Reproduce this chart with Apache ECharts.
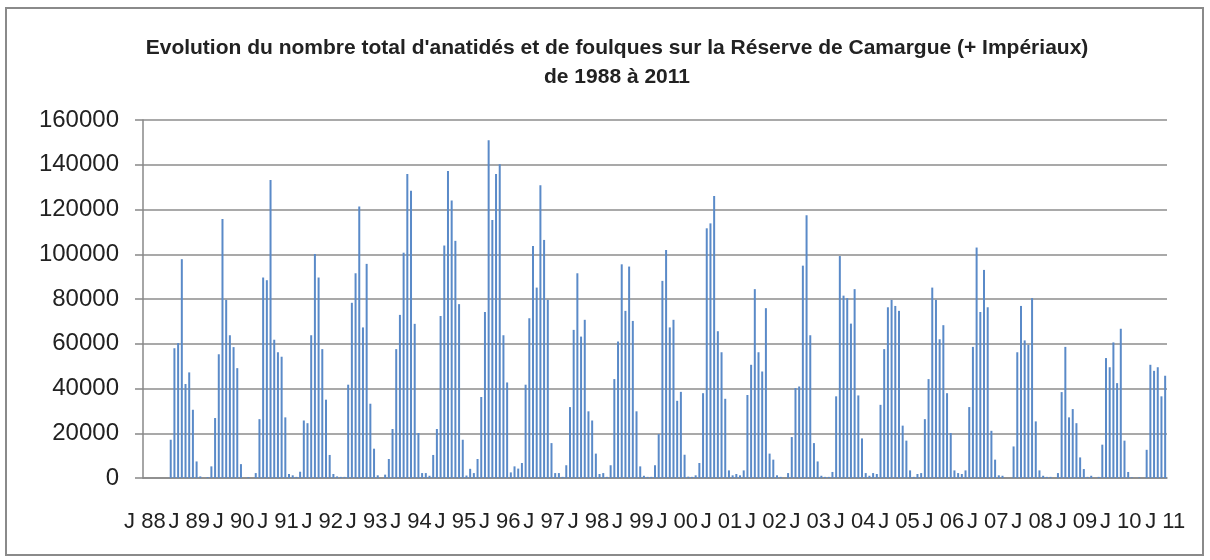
<!DOCTYPE html>
<html>
<head>
<meta charset="utf-8">
<script src="https://cdn.jsdelivr.net/npm/echarts@6/dist/echarts.min.js"></script>
<style>
  html, body { margin: 0; padding: 0; background: #fff; }
  #chart { width: 1210px; height: 560px; }
</style>
</head>
<body>
<div id="chart"></div>
<script>
// comptages mensuels, une ligne par année (janvier -> décembre)
var firstYear = 1988
var lastYear = 2011
var counts = [
    null, null, null, null, null, null, null, 17100, 58000, 60300, 97800, 42000,   // 1988
    47200, 30500, 7400, 700, 0, 400, 5200, 26800, 55300, 115800, 79600, 63800,     // 1989
    58500, 49100, 6200, 0, 400, 0, 2200, 26300, 89600, 88400, 133200, 61800,       // 1990
    56200, 54200, 27100, 1800, 1200, 500, 2800, 25700, 24500, 63800, 100100, 89600, // 1991
    57600, 35000, 10300, 1800, 700, 500, 500, 41700, 78300, 91500, 121300, 67300,  // 1992
    95700, 33200, 13100, 1200, 0, 1500, 8500, 21900, 57600, 72900, 100700, 135900, // 1993
    128400, 68900, 20100, 2200, 2200, 1000, 10300, 21900, 72400, 103900, 137200, 124000, // 1994
    106000, 77700, 17100, 1100, 4100, 2200, 8500, 36200, 74200, 151000, 115300, 135900,  // 1995
    140200, 63800, 42700, 2500, 5200, 4200, 6700, 41700, 71400, 103700, 85100, 130800,   // 1996
    106400, 79600, 15600, 2200, 2200, 500, 5700, 31700, 66200, 91500, 63200, 70700, // 1997
    29800, 25700, 10900, 1800, 2200, 500, 5700, 44200, 61000, 95500, 74700, 94500,  // 1998
    70200, 29800, 5200, 1000, 500, 500, 5700, 19600, 88100, 101900, 67300, 70700,   // 1999
    34500, 38500, 10400, 600, 500, 1200, 6700, 37900, 111600, 113800, 126000, 65600, // 2000
    56200, 35400, 3400, 1200, 1800, 1200, 3400, 37100, 50600, 84400, 56200, 47600,  // 2001
    75900, 10900, 8200, 1200, 500, 0, 2200, 18300, 40200, 40900, 94900, 117400,     // 2002
    63800, 15600, 7400, 1000, 500, 500, 2700, 36500, 99200, 81500, 80400, 69000,    // 2003
    84400, 36900, 17700, 2200, 1000, 2200, 1800, 32700, 57600, 76300, 79600, 76900, // 2004
    74700, 23400, 16700, 3400, 500, 1800, 2200, 26300, 44200, 85100, 79600, 62000,  // 2005
    68300, 37900, 20100, 3400, 2200, 1800, 3400, 31700, 58600, 103000, 74200, 93000, // 2006
    76300, 21100, 8200, 1200, 1000, 0, 0, 14100, 56200, 76900, 61500, 59500,        // 2007
    80400, 25300, 3400, 1000, 500, 500, 0, 2200, 38400, 58600, 27100, 30800,        // 2008
    24500, 9200, 4000, 500, 1000, 0, 500, 14900, 53600, 49500, 60600, 42400,        // 2009
    66700, 16700, 2700, 300, 0, 300, 0, 12600, 50600, 47900, 49500, 36500,          // 2010
    45700                                                                           // 2011
]

// une catégorie par mois, étiquette "J 88" sur chaque janvier
var months = []
for (var y = firstYear; y <= lastYear; y++) {
    for (var m = 0; m < 12; m++) {
        if (months.length < counts.length) months.push(m + '/' + y)
    }
}
function janLabel(value) {
    var yr = value.split('/')[1]
    return 'J ' + yr.slice(2)
}

var theChart = echarts.init(document.getElementById('chart'))
var option = {
    animation: false,
    backgroundColor: '#fff',
    title: {
        text: "Evolution du nombre total d'anatidés et de foulques sur la Réserve de Camargue (+ Impériaux)\nde 1988 à 2011",
        left: 612,
        top: 29,
        textAlign: 'center',
        textStyle: {
            fontFamily: 'Liberation Sans',
            fontSize: 21,
            fontWeight: 'bold',
            lineHeight: 29,
            color: '#222'
        }
    },
    graphic: [{
        type: 'rect',
        shape: { x: 6, y: 8, width: 1197, height: 547 },
        style: { fill: null, stroke: '#8a8a8a', lineWidth: 2 },
        silent: true
    }],
    grid: { left: 143, right: 43, top: 120, bottom: 82 },
    xAxis: {
        type: 'category',
        data: months,
        boundaryGap: true,
        axisLine: { lineStyle: { color: '#888', width: 1.5 } },
        axisTick: {
            interval: function (i) { return i % 12 === 0 },
            length: 8,
            lineStyle: { color: '#888', width: 1.5 }
        },
        axisLabel: {
            interval: function (i) { return i % 12 === 0 },
            formatter: janLabel,
            margin: 33,
            fontFamily: 'Liberation Sans',
            fontSize: 22,
            color: '#222'
        },
        splitLine: { show: false }
    },
    yAxis: {
        type: 'value',
        min: 0,
        max: 160000,
        interval: 20000,
        axisLine: { show: true, lineStyle: { color: '#888', width: 1.5 } },
        axisTick: { show: true, length: 8, lineStyle: { color: '#888', width: 1.5 } },
        axisLabel: {
            margin: 24,
            formatter: function (v) { return String(v) },
            fontFamily: 'Liberation Sans',
            fontSize: 24,
            color: '#222'
        },
        splitLine: { lineStyle: { color: '#8c8c8c', width: 1.5 } }
    },
    series: [{
        name: 'anatidés et foulques',
        type: 'bar',
        data: counts,
        barWidth: 2,
        itemStyle: { color: '#5a8ac8' },
        silent: true
    }]
}
theChart.setOption(option)
</script>
</body>
</html>
